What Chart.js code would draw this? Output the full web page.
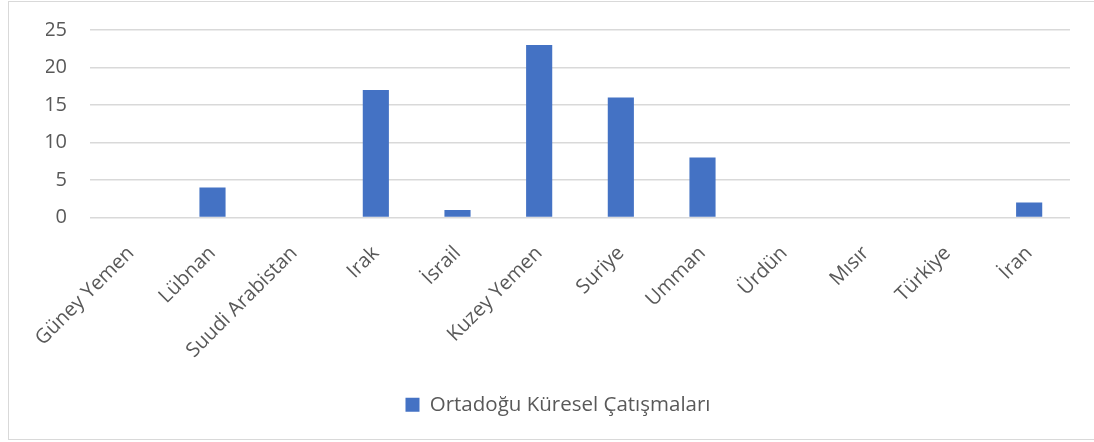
<!DOCTYPE html>
<html><head><meta charset="utf-8">
<script src="https://cdn.jsdelivr.net/npm/chart.js@4.4.0/dist/chart.umd.min.js"></script>
<style>html,body{margin:0;padding:0;background:#fff;overflow:hidden}
#wrap{position:absolute;left:0;top:0;width:1094px;height:442px}
</style></head><body><div id="wrap"><canvas id="c" width="1094" height="442"></canvas></div>
<script>
const categories = ['Güney Yemen','Lübnan','Suudi Arabistan','Irak','İsrail','Kuzey Yemen','Suriye','Umman','Ürdün','Mısır','Türkiye','İran'];
const values = [0,4,0,17,1,23,16,8,0,0,0,2];
const seriesName = 'Ortadoğu Küresel Çatışmaları';
const yTicks = [0,5,10,15,20,25];
const FONT = "'Open Sans', sans-serif";
const TXT = '#595959';
const framePlugin = {id:'frame', beforeDraw(chart){ const ctx=chart.ctx; ctx.save(); ctx.fillStyle='#fff'; ctx.fillRect(0,0,chart.width,chart.height); ctx.strokeStyle='#d9d9d9'; ctx.lineWidth=1; ctx.strokeRect(8.5,1.5,1100,438); ctx.restore(); }};
new Chart(document.getElementById('c'), {
  type:'bar',
  data:{labels:categories, datasets:[{label:seriesName, data:values, backgroundColor:'#4472C4', borderWidth:0, categoryPercentage:1, barPercentage:0.32}]},
  options:{
    responsive:false, animation:false, devicePixelRatio:1,
    layout:{padding:{left:46,right:24,top:30,bottom:17}},
    plugins:{
      tooltip:{enabled:false},
      legend:{position:'bottom', labels:{font:{family:FONT,size:20.5}, color:TXT, boxWidth:14, boxHeight:14, padding:10}}
    },
    scales:{
      x:{grid:{display:false,drawTicks:false}, border:{display:false},
         ticks:{font:{family:FONT,size:20}, color:TXT, minRotation:45, maxRotation:45, autoSkip:false, padding:24},
         afterFit(s){ s.height=167; s.paddingLeft=0; s.paddingRight=0; }},
      y:{min:0,max:25, grid:{color:'#d9d9d9', lineWidth:1.5, drawTicks:false}, border:{display:false},
         afterBuildTicks(s){ s.ticks = yTicks.map(v=>({value:v})); },
         ticks:{font:{family:FONT,size:20}, color:TXT, padding:23},
         afterFit(s){ s.width=44; s.paddingTop=0; s.paddingBottom=0; }}
    }
  },
  plugins:[framePlugin]
});
</script></body></html>
